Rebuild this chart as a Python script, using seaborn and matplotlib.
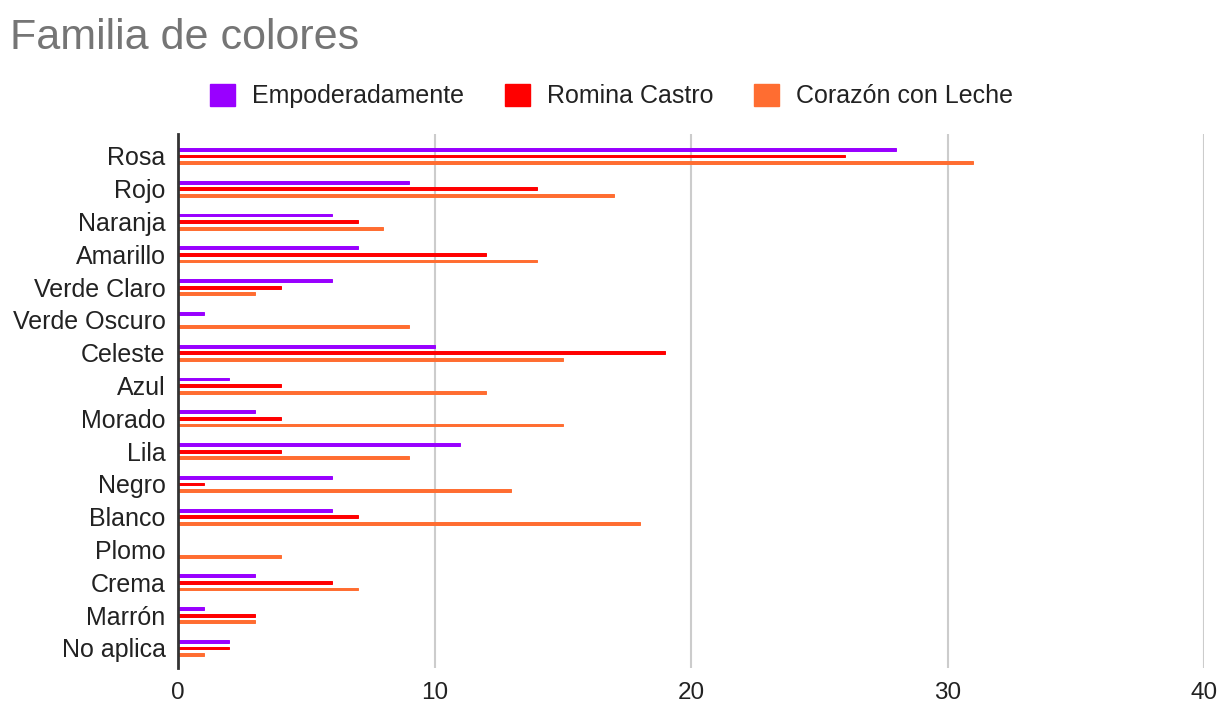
import matplotlib
matplotlib.use("Agg")
import matplotlib.pyplot as plt
import seaborn as sns
import pandas as pd
from matplotlib.patches import Patch

categories = ["Rosa", "Rojo", "Naranja", "Amarillo", "Verde Claro", "Verde Oscuro",
              "Celeste", "Azul", "Morado", "Lila", "Negro", "Blanco", "Plomo",
              "Crema", "Marrón", "No aplica"]
series_names = ["Empoderadamente", "Romina Castro", "Corazón con Leche"]
empoderadamente = [28, 9, 6, 7, 6, 1, 10, 2, 3, 11, 6, 6, 0, 3, 1, 2]
romina_castro = [26, 14, 7, 12, 4, 0, 19, 4, 4, 4, 1, 7, 0, 6, 3, 2]
corazon_con_leche = [31, 17, 8, 14, 3, 9, 15, 12, 15, 9, 13, 18, 4, 7, 3, 1]
x_ticks = [0, 10, 20, 30, 40]
colors = ["#9900ff", "#ff0000", "#ff6d31"]

rows = []
for name, vals in zip(series_names, [empoderadamente, romina_castro, corazon_con_leche]):
    for c, v in zip(categories, vals):
        rows.append({"categoria": c, "serie": name, "valor": v})
df = pd.DataFrame(rows)

sns.set_theme(style="white")
plt.rcParams["font.family"] = ["Liberation Sans", "DejaVu Sans"]

fig = plt.figure(figsize=(12.23, 7.02), dpi=100)
ax = fig.add_axes([178 / 1223, 1 - 668 / 702, 1026 / 1223, (668 - 134) / 702])

sns.barplot(data=df, y="categoria", x="valor", hue="serie", order=categories,
            hue_order=series_names, palette=colors, orient="h",
            width=0.6, gap=0.58, ax=ax, legend=False, saturation=1)
for p in ax.patches:
    p.set_edgecolor(p.get_facecolor())
    p.set_linewidth(0.7)

ax.set_xlim(0, 40)
ax.set_ylim(15.61, -0.67)
ax.set_xticks(x_ticks)
ax.set_xticklabels([str(t) for t in x_ticks], fontsize=17.5, color="#222222")
ax.tick_params(axis="x", length=0, pad=10)
ax.tick_params(axis="y", length=0, pad=9, labelsize=18, labelcolor="#222222")
ax.set_xlabel("")
ax.set_ylabel("")
ax.xaxis.grid(True, color="#cccccc", linewidth=1.5)
ax.set_axisbelow(True)
for s in ["top", "right", "bottom"]:
    ax.spines[s].set_visible(False)
ax.spines["left"].set_color("#333333")
ax.spines["left"].set_linewidth(2)
ax.spines["left"].set_zorder(5)

fig.text(10 / 1223, 1 - 38 / 702, "Familia de colores", fontsize=31, color="#757575",
         ha="left", va="center")

handles = [Patch(facecolor=c, edgecolor=c) for c in colors]
fig.legend(handles, series_names, loc="center", bbox_to_anchor=(0.5, 1 - 96 / 702),
           ncol=3, frameon=False, fontsize=18, handlelength=1.0, handleheight=1.0,
           handletextpad=0.7, columnspacing=1.6, labelcolor="#222222")

fig.savefig("out.png", dpi=100)
